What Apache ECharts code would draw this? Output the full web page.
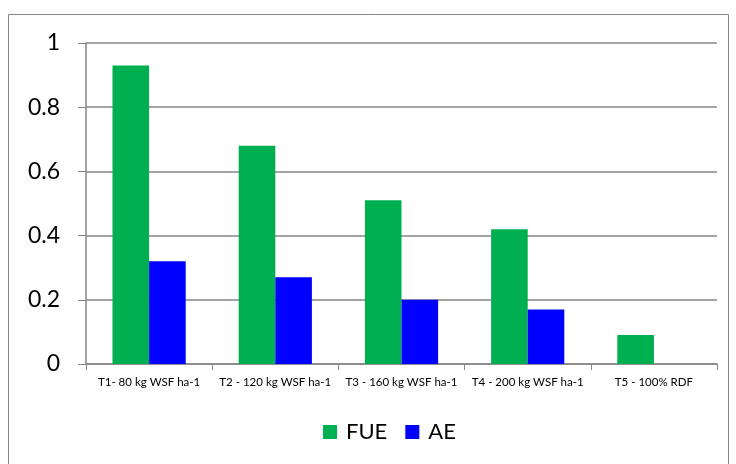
<!DOCTYPE html>
<html>
<head>
<meta charset="UTF-8">
<title>FUE / AE</title>
<script src="https://cdn.jsdelivr.net/npm/echarts@6/dist/echarts.min.js"></script>
<style>
html, body { margin: 0; padding: 0; background: #fff; }
#chart { width: 736px; height: 464px; }
</style>
</head>
<body>
<div id="chart"></div>
<script type="text/javascript">
// data
var categories = ['T1- 80 kg WSF ha-1', 'T2 - 120 kg WSF ha-1', 'T3 - 160 kg WSF ha-1', 'T4 - 200 kg WSF ha-1', 'T5 - 100% RDF'];
var fueValues = [0.93, 0.68, 0.51, 0.42, 0.09];
var aeValues = [0.32, 0.27, 0.20, 0.17, 0];
var yTicks = [0, 0.2, 0.4, 0.6, 0.8, 1];

var font = 'Lato, "Liberation Sans", sans-serif';
var gridColor = '#868686';

var myChart = echarts.init(document.getElementById('chart'));
myChart.setOption({
	animation: false,
	textStyle: { fontFamily: font },
	graphic: [{
		type: 'rect',
		shape: { x: 8.5, y: 14.5, width: 720, height: 470 },
		style: { fill: 'none', stroke: '#868686', lineWidth: 1 },
		silent: true
	}],
	legend: {
		data: ['FUE', 'AE'],
		bottom: 16,
		left: 318,
		itemWidth: 14,
		itemHeight: 14,
		itemGap: 18,
		icon: 'rect',
		textStyle: { fontSize: 22, color: '#000', fontFamily: font, padding: [0, 0, 0, 4] }
	},
	grid: { left: 86, right: 19, top: 43, bottom: 100, containLabel: false },
	xAxis: {
		type: 'category',
		data: categories,
		axisLine: { lineStyle: { color: gridColor, width: 1.5 } },
		axisTick: { show: true, length: 6, lineStyle: { color: gridColor } },
		axisLabel: { color: '#000', fontSize: 11.5, margin: 12, interval: 0, fontFamily: font }
	},
	yAxis: {
		type: 'value',
		min: yTicks[0],
		max: yTicks[yTicks.length - 1],
		interval: 0.2,
		axisLine: { show: true, lineStyle: { color: gridColor, width: 1.5 } },
		axisTick: { show: true, length: 8, lineStyle: { color: gridColor } },
		splitLine: { lineStyle: { color: gridColor, width: 1.5 } },
		axisLabel: { color: '#000', fontSize: 23, margin: 26, fontFamily: font,
			formatter: function (v) { return String(Math.round(v * 10) / 10); } }
	},
	series: [{
		name: 'FUE',
		type: 'bar',
		data: fueValues,
		barGap: '0%',
		barCategoryGap: '42%',
		itemStyle: { color: '#00B050' }
	}, {
		name: 'AE',
		type: 'bar',
		data: aeValues,
		barGap: '0%',
		barCategoryGap: '42%',
		itemStyle: { color: '#0000FF' }
	}]
});
</script>
</body>
</html>
